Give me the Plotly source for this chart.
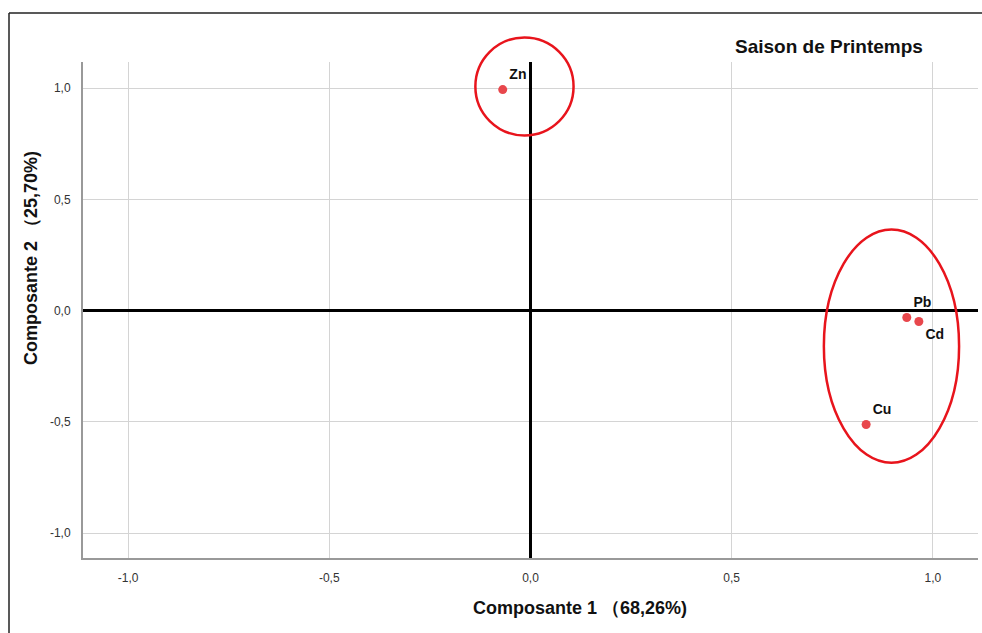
import plotly.graph_objects as go

# Component loadings (Composante 1, Composante 2) for each metal
metals = ["Zn", "Pb", "Cd", "Cu"]
comp1 = [-0.069, 0.935, 0.965, 0.834]
comp2 = [0.993, -0.031, -0.049, -0.512]
label_pos = ["top right", "top right", "bottom right", "top right"]

tick_vals = [-1.0, -0.5, 0.0, 0.5, 1.0]
tick_text = ["-1,0", "-0,5", "0,0", "0,5", "1,0"]

# Groupings highlighted with red ellipses: (centre x, centre y, radius x, radius y)
groups = [
    (-0.015, 1.007, 0.122, 0.220),
    (0.897, -0.160, 0.168, 0.524),
]

x_range = [-1.112, 1.112]
y_range = [-1.112, 1.117]

W, H = 982, 633
margin = dict(l=83, r=4, t=62, b=75)
pw = W - margin["l"] - margin["r"]
ph = H - margin["t"] - margin["b"]


def to_paper_x(v):
    return (v - x_range[0]) / (x_range[1] - x_range[0])


def to_paper_y(v):
    return (v - y_range[0]) / (y_range[1] - y_range[0])


def px_x(p):
    # pixel column on the page -> paper x
    return (p - margin["l"]) / pw


def px_y(p):
    # pixel row on the page -> paper y
    return (H - margin["b"] - p) / ph


fig = go.Figure()
fig.add_trace(go.Scatter(
    x=comp1, y=comp2, mode="markers+text",
    text=metals, textposition=label_pos,
    textfont=dict(family="Liberation Sans", size=14, color="#111111", weight="bold"),
    marker=dict(color="#e8474c", size=9),
    cliponaxis=False, showlegend=False, hoverinfo="skip",
))

shapes = []
for cx, cy, rx, ry in groups:
    shapes.append(dict(
        type="circle", xref="paper", yref="paper",
        x0=to_paper_x(cx - rx), x1=to_paper_x(cx + rx),
        y0=to_paper_y(cy - ry), y1=to_paper_y(cy + ry),
        line=dict(color="#e8141c", width=2.5), layer="above",
    ))

# Frame lines around the figure (top and left edges)
shapes.append(dict(type="line", xref="paper", yref="paper", x0=px_x(9), x1=px_x(W),
                   y0=px_y(13), y1=px_y(13), line=dict(color="#222222", width=1.5)))
shapes.append(dict(type="line", xref="paper", yref="paper", x0=px_x(9), x1=px_x(9),
                   y0=px_y(H), y1=px_y(13), line=dict(color="#222222", width=1.5)))

annotations = [
    dict(text="Saison de Printemps", xref="paper", yref="paper",
         x=px_x(925), y=px_y(46), xanchor="right", yanchor="middle", showarrow=False,
         font=dict(size=19, color="#111111", weight="bold")),
    dict(text="Composante 1 （68,26%)", xref="paper", yref="paper",
         x=px_x(580), y=px_y(608), xanchor="center", yanchor="middle", showarrow=False,
         font=dict(size=18, color="#111111", weight="bold")),
    dict(text="Composante 2 （25,70%)", xref="paper", yref="paper",
         x=px_x(31), y=px_y(258), xanchor="center", yanchor="middle", showarrow=False,
         textangle=-90, font=dict(size=18, color="#111111", weight="bold")),
]

fig.update_layout(
    width=W, height=H, margin=margin,
    paper_bgcolor="white", plot_bgcolor="white",
    font=dict(family="Liberation Sans", color="#333333"),
    shapes=shapes,
    annotations=annotations,
    xaxis=dict(
        range=x_range, tickvals=tick_vals, ticktext=tick_text,
        showgrid=True, gridcolor="#d4d4d4", gridwidth=1,
        zeroline=True, zerolinecolor="#000000", zerolinewidth=3,
        showline=True, linecolor="#999999", linewidth=2, mirror=False,
        ticks="", tickfont=dict(size=12, color="#333333"), ticklabelstandoff=8,
    ),
    yaxis=dict(
        range=y_range, tickvals=tick_vals, ticktext=tick_text,
        showgrid=True, gridcolor="#d4d4d4", gridwidth=1,
        zeroline=True, zerolinecolor="#000000", zerolinewidth=3,
        showline=True, linecolor="#999999", linewidth=2, mirror=False,
        ticks="", tickfont=dict(size=12, color="#333333"), ticklabelstandoff=8,
    ),
)

fig.write_html("out.html")
